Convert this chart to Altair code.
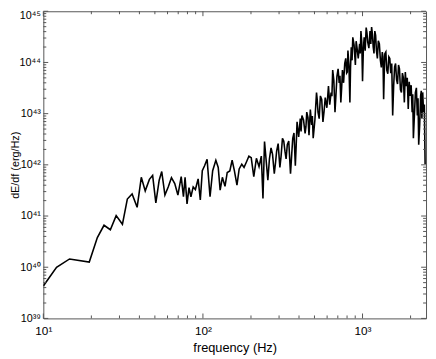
import altair as alt
import pandas as pd

# frequency (Hz) and dE/df (erg/Hz)
freq_hz = [
    10.0, 12.1, 14.6, 19.4, 21.8, 24.0, 26.3, 28.6, 31.3, 33.6,
    36.0, 38.7, 41.1, 43.5, 46.2, 48.4, 50.7, 53.2,
    55.2, 57.8, 60.6, 63.5, 66.6, 69.7, 73.1, 75.5, 77.3, 79.5,
    81.8, 84.1, 86.9, 89.7, 93.3, 96.3, 99.1, 102.4, 106.2, 110.8,
    115.1, 120.5, 124.7, 128.2, 132.4, 137.5, 142.0, 147.4, 152.4, 157.4,
    163.4, 168.7, 175.2, 181.0, 187.9, 194.1, 200.7, 208.3, 216.3, 224.7,
    232.2, 237.8, 243.2,
    255.2, 267.2, 280.0, 289.7, 303.5, 315.0, 326.6, 337.8, 353.8, 365.4,
    379.3, 388.9, 407.4, 417.1, 436.7, 447.3, 462.0, 479.9, 490.8, 514.9,
    526.1, 544.6, 564.9, 583.9, 611.8, 635.4, 650.2, 672.2, 691.1, 714.1,
    731.3, 748.4, 773.7, 795.4, 810.1, 833.5, 850.0, 869.0,
    902, 922.6, 958.9, 977.2, 1000, 1024, 1054, 1078, 1114, 1140,
    1167, 1194, 1222, 1256, 1294, 1330, 1356, 1380, 1419, 1462,
    1503, 1545, 1589, 1634, 1681, 1728, 1778, 1828, 1880, 1934,
    1989, 2046, 2083, 2144, 2205, 2249, 2313, 2355, 2411, 2467,
]
dE_df = [
    4.3e39, 1.0e40, 1.45e40, 1.26e40, 3.8e40, 6.6e40, 5.4e40, 1.02e41, 6.9e40, 2.15e41,
    2.7e41, 1.48e41, 5.7e41, 3.1e41, 5.2e41, 6.2e41, 1.8e41, 5.0e41,
    7.4e41, 2.57e41, 3.7e41, 5.6e41, 4.3e41, 2.57e41, 5.9e41, 2.38e41, 5.7e41, 1.73e41,
    3.6e41, 2.38e41, 3.7e41, 3.3e41, 5.3e41, 2.06e41, 7.7e41, 9.6e41, 1.28e42, 2.38e41,
    7.7e41, 1.23e42, 8.9e41, 3.2e41, 5.7e41, 3.8e41, 7.1e41, 7.6e41, 1.23e42, 7.7e41,
    4.0e41, 8.3e41, 1.03e42, 8.9e41, 1.16e42, 1.48e42, 1.38e42, 5.9e41, 1.34e42, 9.2e41,
    1.48e42, 2.2e41, 2.86e42,
    5.0e41, 2.14e42, 6.7e41, 1.85e42, 8.9e41, 3.3e42, 1.85e42, 2.48e42, 6.7e41, 3.3e42,
    9.6e41, 6.9e42, 8.0e42, 9.2e42, 4.1e42, 1.07e43, 3.8e42, 6.0e42, 3.3e42, 2.57e43,
    1.07e43, 2.22e43, 6.9e42, 2.06e43, 3.44e43, 2.57e43, 7.1e43, 1.07e43, 5.3e43, 4.0e43,
    1.66e43, 7.1e43, 9.6e43, 6.2e43, 1.71e44, 1.66e43, 1.99e44, 3.09e44,
    8.9e43, 1.99e44, 2.30e44, 4.1e44, 4.3e43, 3.1e44, 4.8e44, 2.48e44, 4.1e44, 4.9e44,
    1.99e44, 4.1e44, 1.71e44, 2.66e44, 1.11e44, 1.60e44, 1.91e43, 1.48e44, 7.1e43, 1.29e44,
    6.2e43, 9.2e42, 8.2e43, 4.6e43, 8.9e43, 2.96e43, 6.2e43, 1.66e43, 3.44e43, 1.23e43,
    2.22e43, 1.07e43, 3.3e42, 2.57e43, 9.2e42, 2.48e42, 2.22e43, 8.0e42, 1.07e43, 1.03e42,
]

# further readings inside the dense part of the spectrum (250 Hz and up)
freq_dense_hz = [
    261, 273, 285, 296, 309, 321, 332, 345, 360, 372,
    384, 398, 412, 427, 442, 455, 471, 485, 503, 520,
    535, 555, 574, 598, 623, 643, 661, 682, 703, 722,
    740, 761, 785, 803, 822, 841, 860, 885,
    912, 940, 968, 989, 1012, 1039, 1066, 1096, 1127, 1153,
    1180, 1208, 1239, 1275, 1312, 1343, 1368, 1400, 1440, 1482,
    1524, 1567, 1611, 1657, 1704, 1753, 1803, 1854, 1907, 1961,
    2017, 2064, 2113, 2175, 2227, 2281, 2334, 2383, 2440,
]
dE_df_dense = [
    1.3e42, 1.6e42, 1.1e42, 2.6e42, 1.5e42, 2.9e42, 1.3e42, 2.9e42, 1.6e42, 4.2e42,
    2.4e42, 3.5e42, 4.5e42, 7.5e42, 5.5e42, 8.5e42, 1.2e43, 9.0e42, 7.5e42, 1.9e43,
    8.0e42, 1.9e43, 1.1e43, 1.3e43, 1.5e43, 2.2e43, 4.5e43, 2.4e43, 7.5e43, 5.5e43,
    3.2e43, 4.0e43, 1.2e44, 6.5e43, 9.0e43, 8.0e43, 1.1e44, 2.2e44,
    2.6e44, 1.2e44, 1.5e44, 2.5e44, 1.8e44, 1.7e44, 3.8e44, 1.9e44, 2.3e44, 3.6e44,
    1.5e44, 3.4e44, 1.2e44, 2.3e44, 8.0e43, 1.3e44, 6.0e43, 1.6e44, 6.0e43, 1.2e44,
    9.5e43, 3.5e43, 9.5e43, 3.8e43, 7.5e43, 2.6e43, 5.0e43, 6.5e43, 5.0e43, 4.2e43,
    3.6e43, 2.4e43, 9.0e42, 3.2e43, 2.0e43, 6.0e42, 2.8e43, 2.6e43, 1.5e43,
]

x_major = [10, 100, 1000]
y_major = [1e39, 1e40, 1e41, 1e42, 1e43, 1e44, 1e45]
x_minor = [m * d for d in (10, 100, 1000) for m in range(2, 10) if m * d < 2500]
y_minor = [m * 10.0 ** e for e in range(39, 45) for m in range(2, 10)]

W, H = 390, 313
PAD_LEFT = 36
FONT = "Liberation Sans"
AX = "#555555"

xs = alt.Scale(type="log", domain=[10, 2500], nice=False)
ys = alt.Scale(type="log", domain=[1e39, 1e45], nice=False)

SUP = str.maketrans("0123456789", "⁰¹²³⁴⁵⁶⁷⁸⁹")


def label_expr(exps):
    e = "round(log(datum.value)/LN10)"
    out = "''"
    for k in exps:
        out = f"({e}=={k} ? '10{str(k).translate(SUP)}' : {out})"
    return out


df = pd.concat([
    pd.DataFrame({"freq": freq_hz, "dEdf": dE_df}),
    pd.DataFrame({"freq": freq_dense_hz, "dEdf": dE_df_dense}),
]).sort_values("freq")

xaxis = alt.Axis(
    values=x_major, labelExpr=label_expr([1, 2, 3]), title="frequency (Hz)",
    ticks=False, domain=False, grid=False, labelPadding=7, titlePadding=6,
    labelFlush=False, labelFont=FONT, titleFont=FONT, labelFontSize=12,
    titleFontSize=13, labelColor="black", titleColor="black",
    titleFontWeight="normal")
yaxis = alt.Axis(
    values=y_major, labelExpr=label_expr(range(39, 46)), title="dE/df (erg/Hz)",
    ticks=False, domain=False, grid=False, labelPadding=3,
    labelOffset={"condition": {"test": "datum.value > 5e44", "value": 4}, "value": 0},
    titleX=-23, titleY=H / 2,
    labelFlush=False, labelFont=FONT, titleFont=FONT, labelFontSize=11,
    titleFontSize=11, labelColor="black", titleColor="black",
    titleFontWeight="normal")

line = alt.Chart(df).mark_line(color="black", strokeWidth=1.6, clip=True).encode(
    x=alt.X("freq:Q", scale=xs, axis=xaxis),
    y=alt.Y("dEdf:Q", scale=ys, axis=yaxis),
    order=alt.Order("freq:Q"),
)


def xtick_layer(vals, length):
    d = pd.DataFrame({"t": vals})
    base = alt.Chart(d).mark_rule(color=AX, strokeWidth=1)
    bottom = base.encode(x=alt.X("t:Q", scale=xs, axis=xaxis),
                         y=alt.value(H), y2=alt.value(H - length))
    top = base.encode(x=alt.X("t:Q", scale=xs, axis=xaxis),
                      y=alt.value(0), y2=alt.value(length))
    return [bottom, top]


def ytick_layer(vals, length):
    d = pd.DataFrame({"t": vals})
    base = alt.Chart(d).mark_rule(color=AX, strokeWidth=1)
    left = base.encode(y=alt.Y("t:Q", scale=ys, axis=yaxis),
                       x=alt.value(0), x2=alt.value(length))
    right = base.encode(y=alt.Y("t:Q", scale=ys, axis=yaxis),
                        x=alt.value(W), x2=alt.value(W - length))
    return [left, right]


layers = [line] + xtick_layer(x_major, 5) + xtick_layer(x_minor, 3) \
    + ytick_layer(y_major, 5) + ytick_layer(y_minor, 3)

chart = alt.layer(*layers).properties(
    width=W, height=H, autosize="none",
    padding={"left": PAD_LEFT, "top": 0, "right": 2, "bottom": 36},
).configure(background="white").configure_view(stroke=AX, strokeWidth=1)

chart.save("out.html", embed_options={"renderer": "svg", "actions": False})
